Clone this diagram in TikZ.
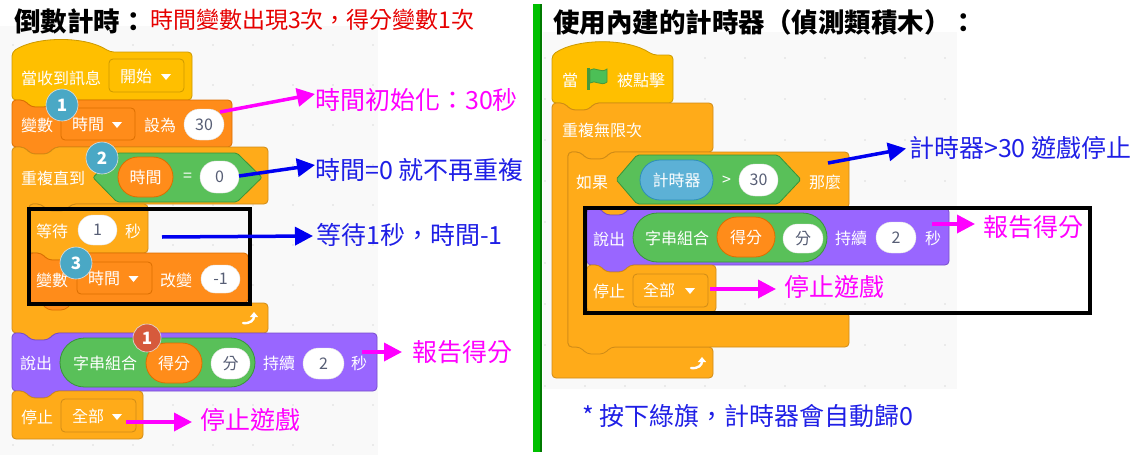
\documentclass[tikz,border=0pt]{standalone}
\usepackage{fontspec}
\setmainfont{Noto Sans CJK TC}
\usetikzlibrary{arrows.meta,shapes.misc}

\definecolor{evfill}{HTML}{FFBF00}\definecolor{evline}{HTML}{CC9900}
\definecolor{ctfill}{HTML}{FFAB19}\definecolor{ctline}{HTML}{CF8B17}
\definecolor{vafill}{HTML}{FF8C1A}\definecolor{valine}{HTML}{DB6E00}
\definecolor{lkfill}{HTML}{9966FF}\definecolor{lkline}{HTML}{774DCB}
\definecolor{opfill}{HTML}{59C059}\definecolor{opline}{HTML}{389438}
\definecolor{sefill}{HTML}{5CB1D6}\definecolor{seline}{HTML}{2E8EB8}
\definecolor{numtext}{HTML}{575E75}
\definecolor{canvas}{HTML}{F9F9F9}
\definecolor{dotgray}{HTML}{DCDCDC}
\definecolor{badgeblue}{HTML}{4AA8C5}
\definecolor{badgered}{HTML}{D65A3C}
\definecolor{notered}{HTML}{E60000}
\definecolor{noteblue}{HTML}{1F1FE6}
\definecolor{arrowblue}{HTML}{0000F0}
\definecolor{notepink}{HTML}{FF00FF}
\definecolor{divgreen}{HTML}{00C000}
\definecolor{divdark}{HTML}{007A00}
\definecolor{flaggreen}{HTML}{4CBF56}
\definecolor{flagline}{HTML}{45993D}

% stack block: notch on top, tab below
\newcommand{\stackblk}[5]{%
  \draw[#1] (#2,#3) -- ({#2+12},#3) -- ({#2+19},{#3+7}) -- ({#2+36},{#3+7}) -- ({#2+43},#3)
    -- (#4,#3) -- (#4,#5) -- ({#2+43},#5) -- ({#2+36},{#5+7}) -- ({#2+19},{#5+7}) -- ({#2+12},#5)
    -- (#2,#5) -- cycle;}
% cap block: notch on top only
\newcommand{\capblk}[5]{%
  \draw[#1] (#2,#3) -- ({#2+12},#3) -- ({#2+19},{#3+7}) -- ({#2+36},{#3+7}) -- ({#2+43},#3)
    -- (#4,#3) -- (#4,#5) -- (#2,#5) -- cycle;}
% hat block: left, flat top, right, bottom, cap width, bulge
\newcommand{\hatblk}[7]{%
  \draw[#1] (#2,#5) -- (#2,#3) .. controls ({#2+0.25*#6},{#3-#7}) and ({#2+0.75*#6},{#3-#7}) .. ({#2+#6},#3)
    -- (#4,#3) -- (#4,#5) -- ({#2+43},#5) -- ({#2+36},{#5+7}) -- ({#2+19},{#5+7}) -- ({#2+12},#5) -- cycle;}
% C block: left, top, right, mouth top, arm, mouth bottom, bottom
\newcommand{\cblk}[8]{%
  \draw[#1] (#2,#3) -- ({#2+12},#3) -- ({#2+19},{#3+7}) -- ({#2+36},{#3+7}) -- ({#2+43},#3)
    -- (#4,#3) -- (#4,#5) -- ({#6+43},#5) -- ({#6+36},{#5+7}) -- ({#6+19},{#5+7}) -- ({#6+12},#5)
    -- (#6,#5) -- (#6,#7) -- (#4,#7) -- (#4,#8) -- ({#2+43},#8) -- ({#2+36},{#8+7}) -- ({#2+19},{#8+7})
    -- ({#2+12},#8) -- (#2,#8) -- cycle;}
\newcommand{\cblkcap}[8]{%
  \draw[#1] (#2,#3) -- ({#2+12},#3) -- ({#2+19},{#3+7}) -- ({#2+36},{#3+7}) -- ({#2+43},#3)
    -- (#4,#3) -- (#4,#5) -- ({#6+43},#5) -- ({#6+36},{#5+7}) -- ({#6+19},{#5+7}) -- ({#6+12},#5)
    -- (#6,#5) -- (#6,#7) -- (#4,#7) -- (#4,#8) -- (#2,#8) -- cycle;}
% dropdown triangle and loop arrow
\newcommand{\ddtri}[2]{\fill[white] ({#1-5},{#2-3}) -- ({#1+5},{#2-3}) -- (#1,{#2+3}) -- cycle;}
\newcommand{\loopicon}[2]{%
  \draw[white, line width=2.4pt, line cap=round, -{Triangle[length=5pt,width=8pt]}]
    ({#1-7},{#2+5}) .. controls ({#1},{#2+6}) and ({#1+4},{#2+2}) .. ({#1+4},{#2-6});}

\begin{document}
\begin{tikzpicture}[x=1pt,y=-1pt,
    blk/.style={rounded corners=4pt, line width=0.8pt},
    ev/.style={blk, fill=evfill, draw=evline},
    ct/.style={blk, fill=ctfill, draw=ctline},
    va/.style={blk, fill=vafill, draw=valine},
    lk/.style={blk, fill=lkfill, draw=lkline},
    op/.style={fill=opfill, draw=opline, line width=0.8pt, rounded corners=2pt},
    lbl/.style={text=white, font=\fontsize{16}{18}\selectfont, inner sep=0pt, anchor=west},
    num/.style={rounded rectangle, fill=white, draw=black!12, text=numtext,
        font=\fontsize{16}{18}\selectfont, inner sep=0pt},
    rep/.style 2 args={rounded rectangle, fill=#1, draw=#2, line width=0.8pt, inner sep=0pt,
        text=white, font=\fontsize{16}{18}\selectfont},
    ddbox/.style 2 args={rectangle, rounded corners=4pt, fill=#1, draw=#2, line width=0.8pt,
        inner sep=0pt, minimum width=75pt, minimum height=33pt},
    badge/.style={circle, fill=badgeblue, draw=white!75!gray, line width=0.6pt, text=white,
        font=\bfseries\fontsize{17}{17}\selectfont, minimum size=32pt, inner sep=0pt},
    note/.style={font=\fontsize{25}{27}\selectfont, inner sep=0pt, anchor=west},
    title/.style={font=\bfseries\fontsize{26.5}{28}\selectfont, inner sep=0pt, anchor=west},
    pointer/.style={line width=3.5pt, -{Triangle[length=18pt,width=18pt]}},
    frame/.style={draw=black, line width=4pt}]

\useasboundingbox (0,0) rectangle (1132,455);
\fill[white] (0,0) rectangle (1132,455);

% canvases
\fill[canvas] (0,26) rectangle (378,455);
\fill[canvas] (543,32) rectangle (957,389);
\foreach \x in {13,53,...,373}
  \foreach \y in {45,85,...,445}
    \fill[dotgray] (\x,\y) circle (0.9pt);
\foreach \x in {545,585,...,945}
  \foreach \y in {58,99,...,386}
    \fill[dotgray] (\x,\y) circle (0.9pt);

% divider
\fill[divgreen] (533,4) rectangle (540,452);
\fill[divdark] (540,4) rectangle (541.5,452);

% titles
\node[title] (ttl1) at (14,21) {倒數計時：};
\node[note, text=notered, font=\fontsize{23}{25}\selectfont] (sub1) at (150,20) {時間變數出現3次，得分變數1次};
\node[title] (ttl2) at (553,22) {使用內建的計時器（偵測類積木）：};

% ---- left script ----
\hatblk{ev}{12}{52}{192}{100}{98}{16}
\stackblk{va}{12}{100}{232}{147}
\cblk{ct}{12}{147}{268}{204}{29}{303}{333}
\stackblk{ct}{29}{204}{148}{253}
\stackblk{va}{29}{253}{248}{303}
\stackblk{lk}{12}{333}{377}{391}
\capblk{ct}{12}{391}{143}{439}
\loopicon{250}{318}

\node[lbl] (when1) at (21,78) {當收到訊息};
\node[ddbox={evfill}{evline}] (dd1) at (146.5,75.5) {};
\node[lbl] at (120,76) {開始};
\ddtri{166}{77}

\node[lbl] (set1) at (21,125) {變數};
\node[ddbox={vafill}{valine}, minimum width=74pt, minimum height=32pt] (dd2) at (98,124) {};
\node[lbl] at (72,124) {時間};
\ddtri{117}{125}
\node[lbl] (to1) at (144,125) {設為};
\node[num, minimum width=40pt, minimum height=31pt] (v30) at (204,124.5) {30};

\node[lbl] (until1) at (21,178) {重複直到};
\draw[op] (93,177.5) -- (117,153) -- (237,153) -- (262,177.5) -- (237,202) -- (117,202) -- cycle;
\node[rep={vafill}{valine}, minimum width=55pt, minimum height=40pt] (tm1) at (145.5,177) {時間};
\node[lbl] (eq1) at (183,177) {=};
\node[num, minimum width=39pt, minimum height=32pt] (v0) at (219.5,177) {0};

\node[lbl] (wait1) at (36,231) {等待};
\node[num, minimum width=39pt, minimum height=30pt] (v1) at (97.5,230) {1};
\node[lbl] (sec1) at (125,231) {秒};

\node[lbl] (chg1) at (36,280) {變數};
\node[ddbox={vafill}{valine}, minimum height=32pt] (dd3) at (114.5,278) {};
\node[lbl] at (88,278) {時間};
\ddtri{133.5}{279}
\node[lbl] (by1) at (160,280) {改變};
\node[num, minimum width=39pt, minimum height=28pt] (vm1) at (220.5,279) {-1};

\node[lbl] (say1) at (20,363) {說出};
\node[rep={opfill}{opline}, minimum width=195pt, minimum height=49pt] (join1) at (157.5,362.5) {};
\node[lbl] at (73,363) {字串組合};
\node[rep={vafill}{valine}, minimum width=56pt, minimum height=40pt] (sc1) at (174,363) {得分};
\node[num, minimum width=39pt, minimum height=31pt] (s1) at (230.5,363.5) {分};
\node[lbl] (for1) at (263,363) {持續};
\node[num, minimum width=41pt, minimum height=31pt] (v2) at (323.5,363.5) {2};
\node[lbl] (sec2) at (351,363) {秒};

\node[lbl] (stop1) at (21,417) {停止};
\node[ddbox={ctfill}{ctline}] (dd4) at (98.5,415.5) {};
\node[lbl] at (72,416) {全部};
\ddtri{117}{417}

\node[badge] (b1) at (62,105) {1};
\node[badge] (b2) at (102,158) {2};
\node[badge] (b3) at (76,263) {3};
\node[badge, fill=badgered, minimum size=28pt] (b4) at (147,338) {1};

\draw[frame] (29,209) rectangle (250,304);

% ---- right script ----
\hatblk{ev}{552}{55}{673}{103}{101}{17}
\cblkcap{ct}{552}{103}{713}{152}{568}{347}{378}
\cblk{ct}{568}{152}{849}{208}{587}{312}{347}
\stackblk{lk}{587}{208}{949}{265}
\capblk{ct}{587}{265}{716}{312}
\loopicon{698}{363}

\node[lbl] (when2) at (562,80) {當};
\fill[flagline] (587,68) rectangle (590,90);
\draw[fill=flaggreen, draw=flagline, line width=0.8pt] (590,70) .. controls (595,66) and (601,74) .. (607,69)
  -- (607,82) .. controls (601,87) and (595,79) .. (590,83) -- cycle;
\node[lbl] (click2) at (617,80) {被點擊};

\node[lbl] (ever2) at (562,130) {重複無限次};

\node[lbl] (if2) at (576,182) {如果};
\draw[op] (616,179.5) -- (637,155) -- (778,155) -- (801,179.5) -- (778,204) -- (637,204) -- cycle;
\node[rep={sefill}{seline}, minimum width=73pt, minimum height=40pt] (tmr) at (676.5,180) {計時器};
\node[lbl] (gt2) at (722,181) {>};
\node[num, minimum width=39pt, minimum height=32pt] (v30b) at (758.5,180) {30};
\node[lbl] (then2) at (809,182) {那麼};

\node[lbl] (say2) at (593,239) {說出};
\node[rep={opfill}{opline}, minimum width=194pt, minimum height=49pt] (join2) at (730,237.5) {};
\node[lbl] at (645,238) {字串組合};
\node[rep={vafill}{valine}, minimum width=58pt, minimum height=40pt] (sc2) at (746,237) {得分};
\node[num, minimum width=40pt, minimum height=29pt] (s2) at (803,238.5) {分};
\node[lbl] (for2) at (835,238) {持續};
\node[num, minimum width=40pt, minimum height=31pt] (v2b) at (896,237.5) {2};
\node[lbl] (sec3) at (925,238) {秒};

\node[lbl] (stop2) at (593,291) {停止};
\node[ddbox={ctfill}{ctline}] (dd5) at (670.5,290.5) {};
\node[lbl] at (643,290) {全部};
\ddtri{690}{291}

\draw[frame] (585,208) rectangle (1090,313);

% ---- notes ----
\node[note, text=notepink] (t1) at (315,100) {時間初始化：30秒};
\node[note, text=noteblue] (t2) at (315,170) {時間=0 就不再重複};
\node[note, text=noteblue] (t3) at (316,235) {等待1秒，時間-1};
\node[note, text=notepink] (t4) at (412,352) {報告得分};
\node[note, text=notepink] (t5) at (200,420) {停止遊戲};
\node[note, text=noteblue] (t6) at (909,148) {計時器>30 遊戲停止};
\node[note, text=notepink] (t7) at (983,227) {報告得分};
\node[note, text=notepink] (t8) at (784,287) {停止遊戲};
\node[note, text=noteblue] (t9) at (582,416) {* 按下綠旗，計時器會自動歸0};

\coordinate (p1) at (220,112);
\coordinate (p2) at (239,176);
\coordinate (p3) at (162,237);
\coordinate (p4) at (362,352);
\coordinate (p5) at (126,422);
\coordinate (p6) at (828,163);
\coordinate (p7) at (932,224);
\coordinate (p8) at (710,289);
\draw[pointer, notepink] (p1) -- ([yshift=6pt]t1.west);
\draw[pointer, arrowblue] (p2) -- ([yshift=5pt]t2.west);
\draw[pointer, arrowblue] (p3) -- ([shift={(-3pt,-1pt)}]t3.west);
\draw[pointer, notepink, shorten >=10pt] (p4) -- (t4.west);
\draw[pointer, notepink, shorten >=8pt] (p5) -- ([yshift=-2pt]t5.west);
\draw[pointer, arrowblue, shorten >=3pt] (p6) -- (t6.west);
\draw[pointer, notepink, shorten >=8pt] (p7) -- ([yshift=3pt]t7.west);
\draw[pointer, notepink, shorten >=8pt] (p8) -- ([yshift=-2pt]t8.west);
\end{tikzpicture}
\end{document}
